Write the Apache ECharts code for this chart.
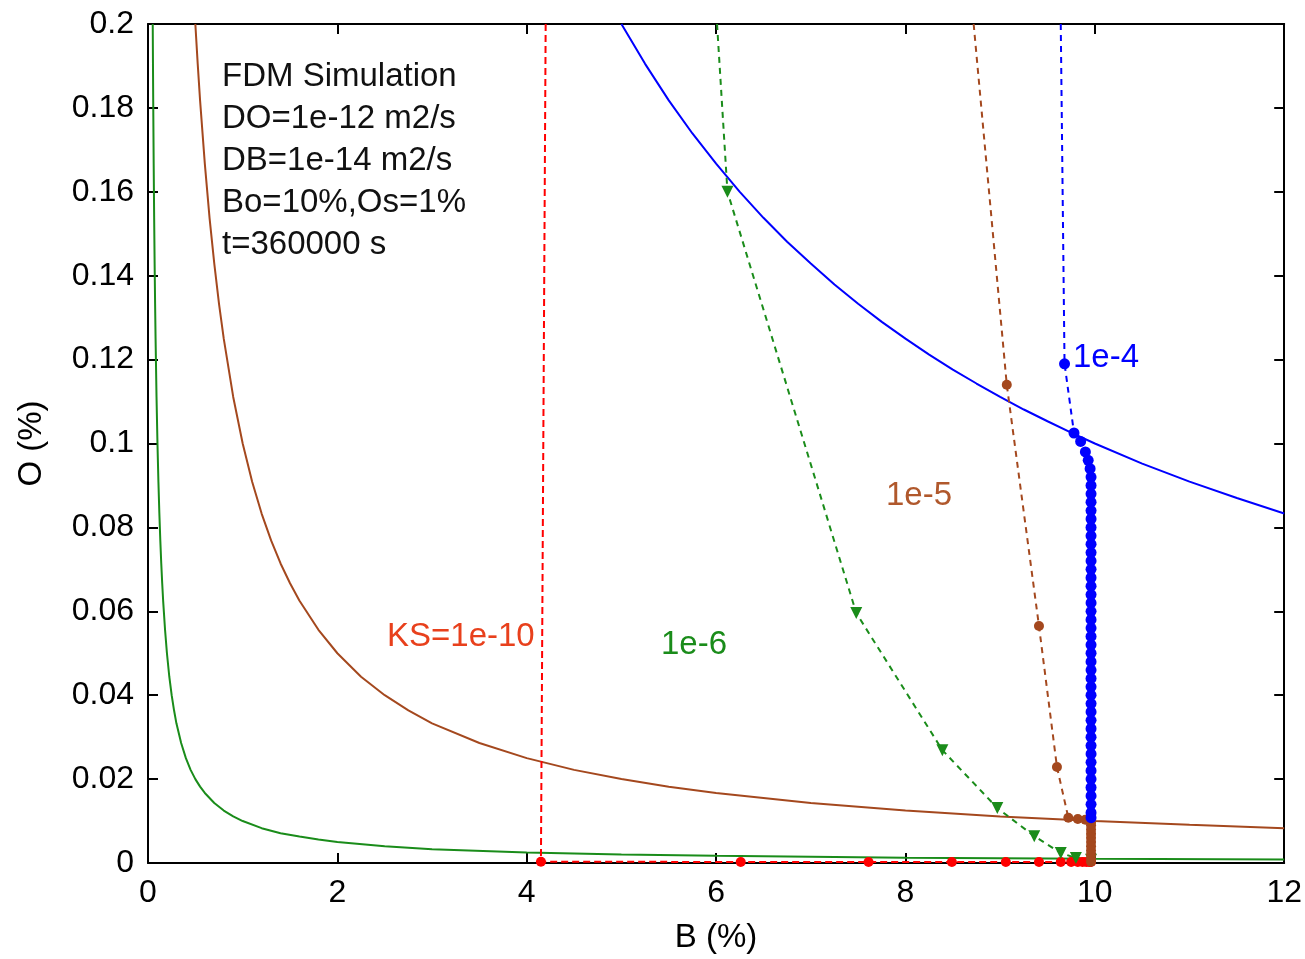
<!DOCTYPE html>
<html>
<head>
<meta charset="utf-8">
<script src="https://cdn.jsdelivr.net/npm/echarts@6/dist/echarts.min.js"></script>
<style>
  html, body { margin: 0; padding: 0; background: #fff; }
  #main { width: 1305px; height: 959px; }
</style>
</head>
<body>
<div id="main"></div>
<script>
// solubility curves O*B = KS [B %, O %]
var curveKs4 = [[5,0.2],[5.25,0.1905],[5.5,0.1818],[5.75,0.1739],[6,0.1667],[6.25,0.16],[6.5,0.1538],
    [6.75,0.1481],[7,0.1429],[7.25,0.1379],[7.5,0.1333],[7.75,0.129],[8,0.125],[8.25,0.1212],[8.5,0.1176],
    [8.75,0.1143],[9,0.1111],[9.25,0.1081],[9.5,0.1053],[9.75,0.1026],[10,0.1],[10.5,0.0952],[11,0.0909],
    [11.5,0.087],[12,0.0833]];
var curveKs5 = [[0.5,0.2],[0.525,0.1905],[0.55,0.1818],[0.6,0.1667],[0.65,0.1538],[0.7,0.1429],[0.75,0.1333],
    [0.8,0.125],[0.9,0.1111],[1,0.1],[1.1,0.0909],[1.2,0.0833],[1.3,0.0769],[1.4,0.0714],[1.5,0.0667],
    [1.6,0.0625],[1.8,0.0556],[2,0.05],[2.25,0.0444],[2.5,0.04],[2.75,0.0364],[3,0.0333],[3.5,0.0286],
    [4,0.025],[4.5,0.0222],[5,0.02],[5.5,0.0182],[6,0.0167],[7,0.0143],[8,0.0125],[9,0.0111],[10,0.01],
    [11,0.0091],[12,0.0083]];
var curveKs6 = [[0.05,0.2],[0.0525,0.1905],[0.055,0.1818],[0.06,0.1667],[0.065,0.1538],[0.07,0.1429],
    [0.075,0.1333],[0.08,0.125],[0.09,0.1111],[0.1,0.1],[0.11,0.0909],[0.12,0.0833],[0.13,0.0769],
    [0.14,0.0714],[0.15,0.0667],[0.16,0.0625],[0.18,0.0556],[0.2,0.05],[0.225,0.0444],[0.25,0.04],
    [0.275,0.0364],[0.3,0.0333],[0.35,0.0286],[0.4,0.025],[0.45,0.0222],[0.5,0.02],[0.55,0.0182],
    [0.6,0.0167],[0.7,0.0143],[0.8,0.0125],[0.9,0.0111],[1,0.01],[1.2,0.0083],[1.4,0.0071],[1.6,0.0063],
    [1.8,0.0056],[2,0.005],[2.5,0.004],[3,0.0033],[4,0.0025],[5,0.002],[6,0.0017],[8,0.00125],[10,0.001],
    [12,0.00083]];

// simulated paths (first point is where the dashed line enters the box, no marker)
var pathKs4 = [[9.64,0.2],[9.68,0.119],[9.78,0.1025],[9.85,0.1005],[9.9,0.098],[9.93,0.096],[9.95,0.094],
    [9.96,0.092],[9.96,0.09],[9.96,0.088],[9.96,0.086],[9.96,0.084],[9.96,0.082],[9.96,0.08],[9.96,0.078],
    [9.96,0.076],[9.96,0.074],[9.96,0.072],[9.96,0.07],[9.96,0.068],[9.96,0.066],[9.96,0.064],[9.96,0.062],
    [9.96,0.06],[9.96,0.058],[9.96,0.056],[9.96,0.054],[9.96,0.052],[9.96,0.05],[9.96,0.048],[9.96,0.046],
    [9.96,0.044],[9.96,0.042],[9.96,0.04],[9.96,0.038],[9.96,0.036],[9.96,0.034],[9.96,0.032],[9.96,0.03],
    [9.96,0.028],[9.96,0.026],[9.96,0.024],[9.96,0.022],[9.96,0.02],[9.96,0.018],[9.96,0.016],[9.96,0.014],
    [9.96,0.012],[9.96,0.0108]];
var pathKs5 = [[8.72,0.2],[9.07,0.114],[9.41,0.0565],[9.6,0.0229],[9.72,0.0108],[9.82,0.0105],[9.9,0.0103],
    [9.96,0.0098],[9.96,0.009],[9.96,0.008],[9.96,0.007],[9.96,0.006],[9.96,0.005],[9.96,0.004],
    [9.96,0.003],[9.96,0.002],[9.96,0.001],[9.96,0.0003]];
var pathKs6 = [[6.01,0.2],[6.12,0.16],[7.48,0.0596],[8.39,0.0269],[8.97,0.0131],[9.36,0.0064],
    [9.64,0.0024],[9.8,0.0012],[9.96,0.0008]];
var pathKs10 = [[4.2,0.2],[4.15,0.0003],[6.26,0.00025],[7.61,0.00025],[8.49,0.00025],[9.06,0.00025],
    [9.41,0.00025],[9.64,0.00025],[9.75,0.00025],[9.82,0.00025],[9.87,0.00025],[9.91,0.00025],
    [9.94,0.00025],[9.96,0.00025]];

var infoLines = ['FDM Simulation', 'DO=1e-12 m2/s', 'DB=1e-14 m2/s', 'Bo=10%,Os=1%', 't=360000 s'];

var FONT = '"Liberation Sans", Arial, sans-serif';
var BLUE = '#0000ff', BROWN = '#a4481e', GREEN = '#1a8c1a', RED = '#ff0000';
var TXT = 33;

function curve(name, pts, color) {
    return {
        name: name, type: 'line', data: pts, showSymbol: false, smooth: false,
        lineStyle: { color: color, width: 2 }, animation: false, z: 2
    };
}
function path(name, pts, color, symbol, size, dash, rot) {
    return {
        name: name, type: 'line', animation: false, z: 3,
        data: pts.map(function (p, i) { return i === 0 ? { value: p, symbol: 'none' } : p; }),
        symbol: symbol, symbolSize: size, symbolRotate: rot || 0, showAllSymbol: true,
        itemStyle: { color: color, borderWidth: 0 },
        lineStyle: { color: color, width: 2, type: dash }
    };
}

var chart = echarts.init(document.getElementById('main'));

var axisCommon = {
    axisLine: { show: true, onZero: false, lineStyle: { color: '#000', width: 2 } },
    axisTick: { show: true, inside: true, length: 10, lineStyle: { color: '#000', width: 2 } },
    splitLine: { show: false }
};

function label(t, x, y, color) {
    return {
        type: 'text', x: x, y: y,
        style: { text: t, fill: color, fontSize: TXT, fontFamily: FONT, verticalAlign: 'middle' }
    };
}

chart.setOption({
    backgroundColor: '#fff',
    grid: { left: 148, right: 19, top: 24, bottom: 96 },
    xAxis: [
        Object.assign({
            type: 'value', min: 0, max: 12, interval: 2, position: 'bottom',
            name: 'B (%)', nameLocation: 'middle', nameGap: 58,
            nameTextStyle: { fontFamily: FONT, fontSize: 33, color: '#000' },
            axisLabel: { fontFamily: FONT, fontSize: 32, color: '#000', margin: 14 }
        }, axisCommon),
        Object.assign({
            type: 'value', min: 0, max: 12, interval: 2, position: 'top',
            axisLabel: { show: false }
        }, axisCommon)
    ],
    yAxis: [
        Object.assign({
            type: 'value', min: 0, max: 0.2, interval: 0.02, position: 'left',
            name: 'O (%)', nameLocation: 'middle', nameGap: 100,
            nameTextStyle: { fontFamily: FONT, fontSize: 33, color: '#000' },
            axisLabel: { fontFamily: FONT, fontSize: 32, color: '#000', margin: 14 }
        }, axisCommon),
        Object.assign({
            type: 'value', min: 0, max: 0.2, interval: 0.02, position: 'right',
            axisLabel: { show: false }
        }, axisCommon)
    ],
    series: [
        curve('KS=1e-4', curveKs4, BLUE),
        curve('KS=1e-5', curveKs5, BROWN),
        curve('KS=1e-6', curveKs6, GREEN),
        path('path 1e-10', pathKs10, RED, 'circle', 10, [7, 4]),
        path('path 1e-6', pathKs6, GREEN, 'triangle', 12, [6, 5], 180),
        path('path 1e-5', pathKs5, BROWN, 'circle', 10, [6, 5]),
        path('path 1e-4', pathKs4, BLUE, 'circle', 11, [6, 5])
    ],
    graphic: infoLines.map(function (t, i) {
        return label(t, 222, 77 + i * 42, '#111');
    }).concat([
        label('KS=1e-10', 387, 637, '#e8401c'),
        label('1e-6', 661, 645, GREEN),
        label('1e-5', 886, 496, '#b0582c'),
        label('1e-4', 1073, 358, BLUE)
    ])
});
window.addEventListener('resize', function () {
    chart.resize();
});
</script>
</body>
</html>
